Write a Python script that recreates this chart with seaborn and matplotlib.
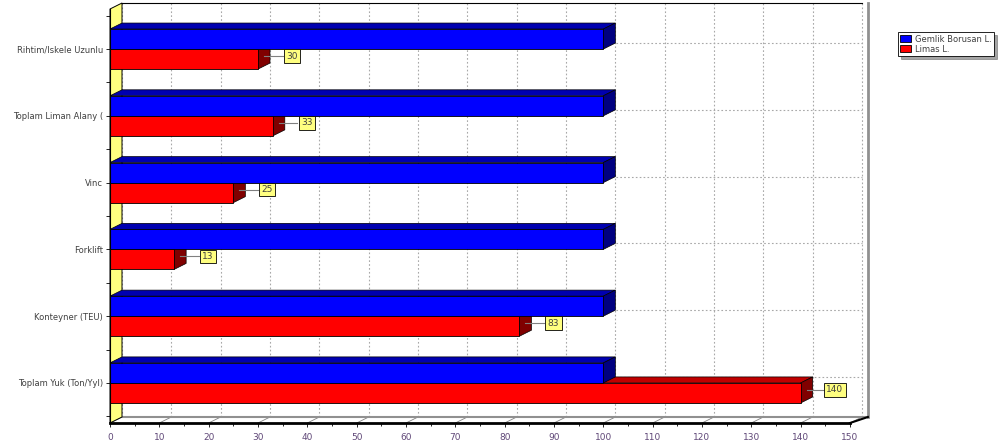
import matplotlib
matplotlib.use("Agg")
import matplotlib.pyplot as plt
from matplotlib.patches import Polygon, Patch
import seaborn as sns
import numpy as np
import pandas as pd

# data
categories = ["Rihtim/Iskele Uzunlu", "Toplam Liman Alany (", "Vinc",
              "Forklift", "Konteyner (TEU)", "Toplam Yuk (Ton/Yyl)"]
series_names = ["Gemlik Borusan L.", "Limas L."]
gemlik = [100, 100, 100, 100, 100, 100]
limas = [30, 33, 25, 13, 83, 140]
x_ticks = list(range(0, 151, 10))

df = pd.DataFrame({
    "cat": categories * 2,
    "series": [series_names[0]] * len(categories) + [series_names[1]] * len(categories),
    "value": gemlik + limas,
})

W, H = 1003, 447
fig = plt.figure(figsize=(W / 100, H / 100), dpi=100)
# axes = front plane of the fake 3d box
left_px, right_px, top_px, bot_px = 110, 850, 9, 423
ax = fig.add_axes([left_px / W, (H - bot_px) / H, (right_px - left_px) / W, (bot_px - top_px) / H])

palette = {series_names[0]: "#0000ff", series_names[1]: "#ff0000"}
sns.barplot(data=df, y="cat", x="value", hue="series", order=categories,
            hue_order=series_names, palette=palette, orient="h", width=0.6,
            dodge=True, saturation=1, edgecolor="black", linewidth=0.6,
            legend=False, ax=ax)

ax.set_xlim(0, 150)
ax.set_ylim(5.6, -0.6)
y0, y1 = 5.6, -0.6

# depth offset (12 px right, 6 px up) in data units
dxd = 12 / (right_px - left_px) * 150
dyd = 6 / ((bot_px - top_px) / 6.2)

grid_ls = (0, (1.5, 2))
grid_col = "#a8a8a8"

# back wall, grid, left wall and floor
ax.add_patch(Polygon([(0, y0), (dxd, y0 - dyd), (dxd, y1 - dyd), (0, y1)],
                     closed=True, fc="#ffff80", ec="black", lw=0.7, zorder=0.5, clip_on=False))
for xv in x_ticks:
    ax.plot([xv + dxd, xv + dxd], [y0 - dyd, y1 - dyd], ls=grid_ls, color=grid_col,
            lw=0.8, zorder=0.3, clip_on=False)
    ax.plot([xv, xv + dxd], [y0, y0 - dyd], color="#808080", lw=0.6, zorder=0.3, clip_on=False)
for yc in range(len(categories)):
    ax.plot([dxd, 150 + dxd], [yc - dyd, yc - dyd], ls=grid_ls, color=grid_col,
            lw=0.8, zorder=0.3, clip_on=False)
ax.plot([dxd, 150 + dxd], [y1 - dyd, y1 - dyd], color="black", lw=0.8, zorder=0.4, clip_on=False)
ax.plot([150 + dxd + 1.2, 150 + dxd + 1.2], [y1 - dyd, y0 - dyd], color="#909090", lw=2.0,
        zorder=0.4, clip_on=False)
ax.plot([dxd, 150 + dxd + 1.2], [y0 - dyd, y0 - dyd], color="#909090", lw=1.5, zorder=0.4, clip_on=False)
ax.plot([0, 150], [y0, y0], color="black", lw=2.0, zorder=5, clip_on=False)
ax.plot([150, 150 + dxd + 1.2], [y0, y0 - dyd], color="black", lw=1.5, zorder=5, clip_on=False)

# 3d faces for the bars
face_cols = [("#0000b0", "#000080"), ("#c00000", "#800000")]
zs = [3, 2]
for k, cont in enumerate(ax.containers):
    top_c, side_c = face_cols[k]
    for p in cont.patches:
        p.set_zorder(zs[k])
        w = p.get_width()
        ya = min(p.get_y(), p.get_y() + p.get_height())
        yb = max(p.get_y(), p.get_y() + p.get_height())
        ax.add_patch(Polygon([(0, ya), (w, ya), (w + dxd, ya - dyd), (dxd, ya - dyd)],
                             closed=True, fc=top_c, ec="black", lw=0.5, zorder=zs[k] - 0.1))
        ax.add_patch(Polygon([(w, ya), (w + dxd, ya - dyd), (w + dxd, yb - dyd), (w, yb)],
                             closed=True, fc=side_c, ec="black", lw=0.5, zorder=zs[k] - 0.1))

# value labels on the red bars
for p, v in zip(ax.containers[1].patches, limas):
    yc = p.get_y() + p.get_height() / 2 - dyd / 2
    ax.plot([v + dxd * 0.5, v + 5.0], [yc, yc], color="#808080", lw=0.8, zorder=4)
    ax.text(v + 6.9, yc, str(v), ha="center", va="center", fontsize=6.5, color="#404040", zorder=6,
            bbox=dict(boxstyle="square,pad=0.25", fc="#ffff80", ec="black", lw=0.6))

for s in ax.spines.values():
    s.set_visible(False)
ax.patch.set_visible(False)
ax.plot([0, 0], [y0, y1], color="black", lw=0.8, zorder=5, clip_on=False)

ax.set_xticks(x_ticks)
ax.set_xticks(np.arange(5, 150, 10), minor=True)
ax.set_yticks(range(len(categories)))
ax.set_yticks(np.arange(-0.5, 5.6, 1), minor=True)
ax.set_yticklabels(categories)
ax.tick_params(axis="y", labelsize=6, labelcolor="#404040", length=3, width=0.6, pad=2)
ax.tick_params(axis="y", which="minor", length=3, width=0.6)
ax.tick_params(axis="x", labelsize=6.5, labelcolor="#604878", length=3, width=0.6, pad=4)
ax.tick_params(axis="x", which="minor", length=2, width=0.6)
ax.set_xlabel("")
ax.set_ylabel("")

# legend
handles = [Patch(fc=palette[n], ec="black", lw=0.6) for n in series_names]
leg = fig.legend(handles, series_names, loc="upper left", bbox_to_anchor=(898 / W, 1 - 32 / H),
                 fontsize=6, frameon=True, fancybox=False, shadow=True, handlelength=1.3,
                 handleheight=0.9, handletextpad=0.4, borderpad=0.3, labelspacing=0.15,
                 borderaxespad=0)
leg.get_frame().set_edgecolor("black")
leg.get_frame().set_linewidth(0.6)
for t in leg.get_texts():
    t.set_color("#404040")

fig.savefig("out.png", dpi=100)
